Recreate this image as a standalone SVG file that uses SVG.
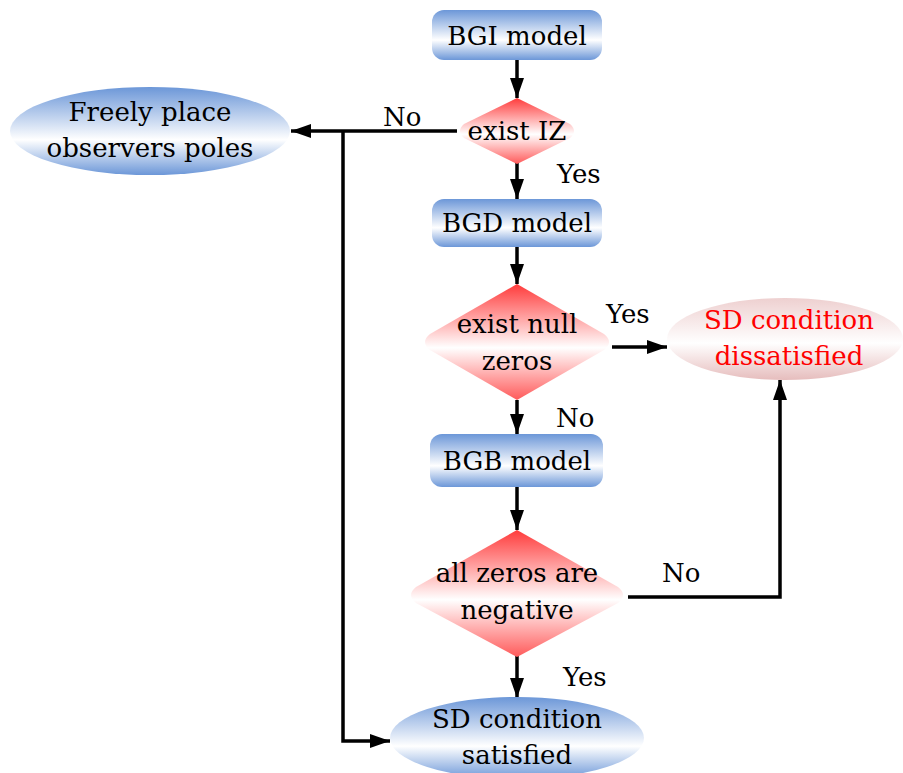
<svg xmlns="http://www.w3.org/2000/svg" width="903" height="773" viewBox="0 0 903 773">
<defs>
<linearGradient id="gBlue" x1="0" y1="0" x2="0" y2="1">
<stop offset="0" stop-color="#6c97d8"/>
<stop offset="0.6" stop-color="#ffffff"/>
<stop offset="1" stop-color="#6c97d8"/>
</linearGradient>
<linearGradient id="gRed" x1="0" y1="0" x2="0" y2="1">
<stop offset="0" stop-color="#ff3b3b"/>
<stop offset="0.55" stop-color="#ffffff"/>
<stop offset="1" stop-color="#ff5a5a"/>
</linearGradient>
<linearGradient id="gPink" x1="0" y1="0" x2="0" y2="1">
<stop offset="0" stop-color="#eed0d0"/>
<stop offset="0.55" stop-color="#ffffff"/>
<stop offset="1" stop-color="#e6bdbd"/>
</linearGradient>
<marker id="arr" markerWidth="20" markerHeight="14" refX="20" refY="7" orient="auto" markerUnits="userSpaceOnUse" viewBox="0 0 20 14">
<path d="M0,0 L20,7 L0,14 Z" fill="#000"/>
</marker>
<style>
text{font-family:"DejaVu Serif",serif;font-size:26px;text-anchor:middle;fill:#000}
.red{fill:#ff0000}
.lbl{text-anchor:start}
.c{fill:none;stroke:#000;stroke-width:3.5}
</style>
</defs>
<g id="connectors">
<path class="c" d="M517,60 V98" marker-end="url(#arr)"/>
<path class="c" d="M517,163 V199" marker-end="url(#arr)"/>
<path class="c" d="M517,247 V284" marker-end="url(#arr)"/>
<path class="c" d="M517,400 V434" marker-end="url(#arr)"/>
<path class="c" d="M517,487 V530" marker-end="url(#arr)"/>
<path class="c" d="M517,656 V698" marker-end="url(#arr)"/>
<path class="c" d="M612,347 H667" marker-end="url(#arr)"/>
<path class="c" d="M628,597 H780 V380" marker-end="url(#arr)"/>
<path class="c" d="M457,131 H291" marker-end="url(#arr)"/>
<path class="c" d="M343,131 V741 H390" marker-end="url(#arr)"/>
<text class="lbl" x="383" y="126">No</text>
<text class="lbl" x="557" y="183">Yes</text>
<text class="lbl" x="606" y="323">Yes</text>
<text class="lbl" x="556" y="427">No</text>
<text class="lbl" x="662" y="582">No</text>
<text class="lbl" x="563" y="686">Yes</text>
</g>
<g id="bgi">
<rect x="432" y="10" width="170" height="50" rx="12" fill="url(#gBlue)"/>
<text x="517" y="45">BGI model</text>
</g>
<g id="existIZ">
<path d="M517,98 L570,124 Q578,131 570,138 L517,164 L464,138 Q456,131 464,124 Z" fill="url(#gRed)"/>
<text x="517" y="140">exist IZ</text>
</g>
<g id="freely">
<ellipse cx="150" cy="131" rx="140" ry="44" fill="url(#gBlue)"/>
<text x="150" y="121">Freely place</text>
<text x="150" y="157">observers poles</text>
</g>
<g id="bgd">
<rect x="432" y="199" width="170" height="48" rx="12" fill="url(#gBlue)"/>
<text x="517" y="232">BGD model</text>
</g>
<g id="existNull">
<path d="M517,284 L604,334 Q614,342 604,350 L517,400 L430,350 Q420,342 430,334 Z" fill="url(#gRed)"/>
<text x="517" y="333">exist null</text>
<text x="517" y="370">zeros</text>
</g>
<g id="dissatisfied">
<ellipse cx="785" cy="339" rx="118" ry="41" fill="url(#gPink)"/>
<text class="red" x="789" y="329">SD condition</text>
<text class="red" x="789" y="365">dissatisfied</text>
</g>
<g id="bgb">
<rect x="430" y="434" width="173" height="53" rx="12" fill="url(#gBlue)"/>
<text x="517" y="470">BGB model</text>
</g>
<g id="allZeros">
<path d="M517,530 L618,587 Q628,595 618,603 L517,657 L416,603 Q406,595 416,587 Z" fill="url(#gRed)"/>
<text x="517" y="582">all zeros are</text>
<text x="517" y="619">negative</text>
</g>
<g id="satisfied">
<ellipse cx="517" cy="738" rx="127" ry="41" fill="url(#gBlue)"/>
<text x="517" y="728">SD condition</text>
<text x="517" y="764">satisfied</text>
</g>
</svg>
